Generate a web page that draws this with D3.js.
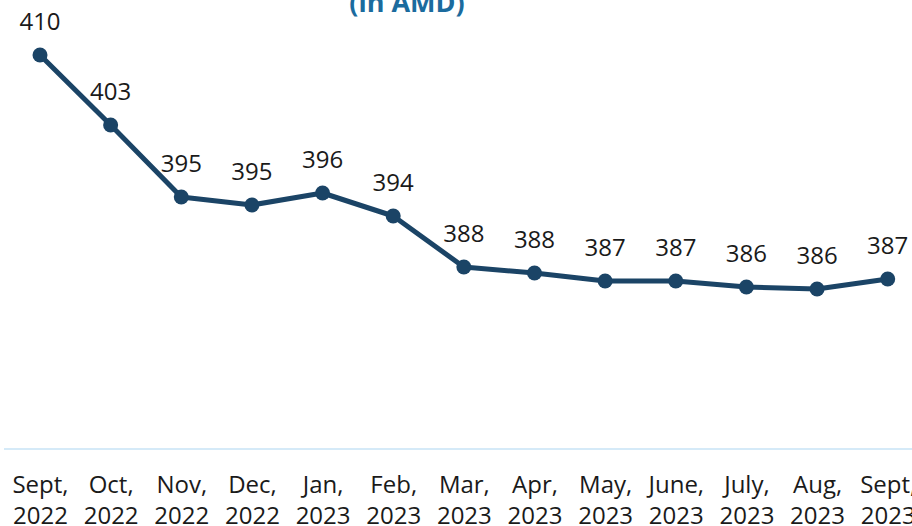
<!DOCTYPE html>
<html>
<head>
<meta charset="utf-8">
<script src="https://cdn.jsdelivr.net/npm/d3@7.9.0/dist/d3.min.js"></script>
<style>
  html, body { margin: 0; padding: 0; background: #fff; overflow: hidden; }
  svg { display: block; font-family: "Open Sans", sans-serif; }
</style>
</head>
<body>
<svg id="chart" width="912" height="526"></svg>
<script>
const months = [
  'Sept, 2022', 'Oct, 2022', 'Nov, 2022', 'Dec, 2022', 'Jan, 2023', 'Feb, 2023',
  'Mar, 2023', 'Apr, 2023', 'May, 2023', 'June, 2023', 'July, 2023', 'Aug, 2023', 'Sept, 2023'
];
const prices = [409.6, 402.6, 395.4, 394.6, 395.8, 393.5, 388.4, 387.8, 387.0, 387.0, 386.4, 386.2, 387.2];
const subtitle = '(in AMD)';

const width = 912, height = 526;
const baseY = 449;

const svg = d3.select('#chart');

let x = d3.scalePoint().domain(months).range([40, 887.7]).padding(0);
let y = d3.scaleLinear().domain([370.2, 420.2]).range([baseY, baseY - 500]);

// title (mostly cut off at the top)
svg.append('text')
    .attr('x', 407)
    .attr('y', 12)
    .attr('text-anchor', 'middle')
    .attr('font-size', 27)
    .attr('font-weight', 700)
    .attr('fill', '#1b6b9e')
    .text(subtitle);

// baseline
svg.append('line')
    .attr('x1', 4).attr('x2', width)
    .attr('y1', baseY).attr('y2', baseY)
    .attr('stroke', '#d5eaf8')
    .attr('stroke-width', 2);

// x axis labels
let xAxis = svg.append('g')
    .attr('transform', `translate(0,${baseY})`)
    .call(d3.axisBottom(x).tickSize(0));
xAxis.select('.domain').remove();
xAxis.selectAll('text')
    .attr('font-size', 24)
    .attr('font-family', '"Open Sans", sans-serif')
    .attr('fill', '#1a1a1a')
    .attr('dy', null)
    .attr('y', 0)
    .text(null)
    .each(function (d) {
        const parts = d.split(' ');
        const t = d3.select(this);
        parts.forEach((p, i) => {
            t.append('tspan')
                .attr('x', 0)
                .attr('y', 44 + i * 31)
                .text(p);
        });
    });

// line
let line = d3.line()
    .x((d, i) => x(months[i]))
    .y((d) => y(d));

svg.append('path')
    .datum(prices)
    .attr('d', line)
    .attr('fill', 'none')
    .attr('stroke', '#1b4466')
    .attr('stroke-width', 5)
    .attr('stroke-linejoin', 'round');

svg.selectAll('circle')
    .data(prices)
    .join('circle')
    .attr('cx', (d, i) => x(months[i]))
    .attr('cy', (d) => y(d))
    .attr('r', 7.5)
    .attr('fill', '#1b4466');

svg.selectAll('.value')
    .data(prices)
    .join('text')
    .attr('class', 'value')
    .attr('x', (d, i) => x(months[i]))
    .attr('y', (d) => y(d) - 25)
    .attr('text-anchor', 'middle')
    .attr('font-size', 24)
    .attr('fill', '#1a1a1a')
    .text((d) => d3.format('.0f')(d));
</script>
</body>
</html>
